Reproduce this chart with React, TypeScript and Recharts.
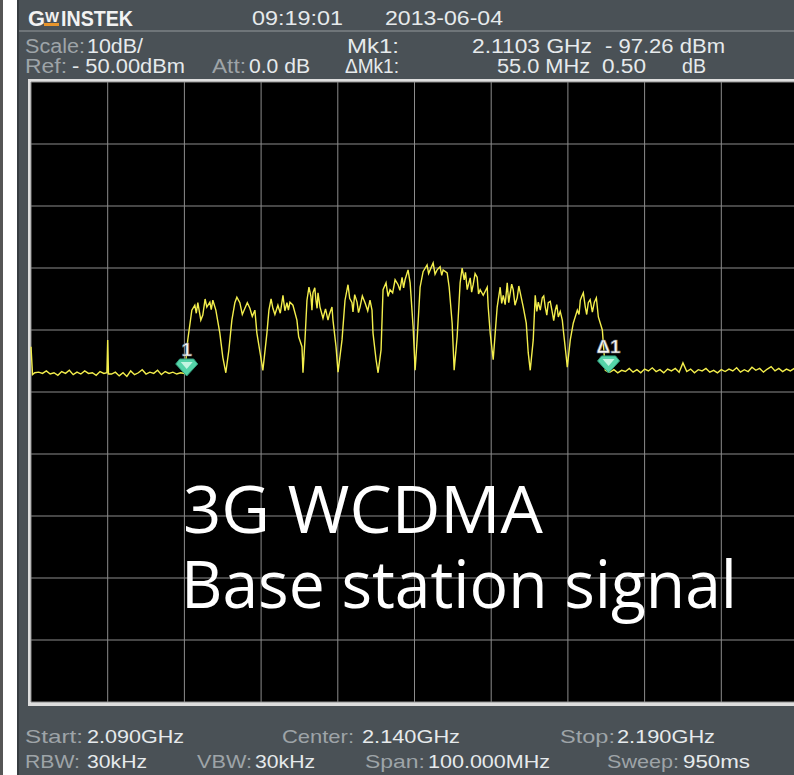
import React from "react";
import { LineChart, Line, XAxis, YAxis, CartesianGrid, ReferenceDot } from "recharts";

// Frequency axis (MHz) and level axis (dBm)
const freqTicks = [2090, 2100, 2110, 2120, 2130, 2140, 2150, 2160, 2170, 2180, 2190];
const levelTicks = [-150, -140, -130, -120, -110, -100, -90, -80, -70, -60, -50];

// Noise floor left of the WCDMA band: [MHz, dBm]
const noiseLeft: [number, number][] = [
  [2090.0, -92.7], [2090.2, -97.2], [2090.5, -96.9], [2091.0, -96.8], [2091.5, -97.0], [2092.0, -96.6],
  [2092.5, -97.1], [2093.0, -96.9], [2093.5, -97.3], [2094.0, -96.7], [2094.5, -97.0], [2095.0, -96.5],
  [2095.5, -97.2], [2096.0, -96.8], [2096.5, -97.1], [2097.0, -96.6], [2097.5, -97.0], [2098.0, -96.9],
  [2098.5, -97.3], [2099.0, -96.7], [2099.5, -97.0], [2099.9, -96.9], [2100.0, -91.6], [2100.1, -97.1],
  [2100.5, -97.1], [2101.0, -96.8], [2101.5, -97.4], [2102.0, -96.9], [2102.5, -97.5], [2103.0, -96.6],
  [2103.5, -97.2], [2104.0, -96.9], [2104.5, -96.4], [2105.0, -97.1], [2105.5, -96.8], [2106.0, -97.0],
  [2106.5, -96.5], [2107.0, -97.2], [2107.5, -96.7], [2108.0, -97.0], [2108.5, -96.8], [2109.0, -97.1],
  [2109.5, -96.9], [2110.0, -97.0],
];

// WCDMA band (11 carriers, 5 MHz apart): [MHz, dBm]
const signalBand: [number, number][] = [
  [2110.05, -96.9], [2110.44, -91.6], [2110.97, -86.8], [2111.36, -86.0], [2111.55, -87.3], [2111.75, -85.6],
  [2112.14, -88.4], [2112.40, -87.6], [2112.70, -85.0], [2112.92, -86.3], [2113.32, -85.5], [2113.50, -86.7],
  [2113.71, -85.2], [2114.10, -86.8], [2114.62, -90.5], [2115.01, -94.4], [2115.40, -96.9], [2115.80, -93.2],
  [2116.19, -88.4], [2116.58, -85.6], [2116.84, -84.7], [2117.23, -85.6], [2117.55, -87.5], [2117.89, -86.5],
  [2118.20, -85.6], [2118.54, -86.5], [2118.85, -87.8], [2119.19, -86.8], [2119.45, -90.5], [2119.97, -94.4],
  [2120.23, -96.5], [2120.76, -90.5], [2121.02, -86.8], [2121.30, -85.0], [2121.54, -86.5], [2121.80, -87.5],
  [2122.19, -86.0], [2122.50, -87.3], [2122.85, -84.4], [2123.10, -86.9], [2123.37, -85.6], [2123.56, -86.8],
  [2123.76, -85.5], [2124.15, -86.0], [2124.67, -88.4], [2124.90, -91.1], [2125.33, -92.7], [2125.46, -96.9],
  [2125.72, -91.6], [2125.98, -85.2], [2126.24, -83.1], [2126.50, -84.6], [2126.63, -86.8], [2126.76, -84.0],
  [2127.00, -83.2], [2127.15, -85.2], [2127.30, -86.5], [2127.42, -84.0], [2127.68, -86.3], [2128.07, -88.1],
  [2128.40, -86.6], [2128.72, -88.4], [2128.90, -87.5], [2129.24, -86.3], [2129.37, -88.4], [2129.77, -92.7],
  [2130.03, -96.8], [2130.55, -91.6], [2130.94, -85.2], [2131.33, -82.7], [2131.55, -84.9], [2131.85, -85.6],
  [2131.98, -87.1], [2132.20, -84.3], [2132.51, -85.5], [2132.70, -87.2], [2132.90, -86.3], [2133.20, -84.5],
  [2133.55, -85.6], [2133.90, -86.9], [2134.20, -85.2], [2134.46, -86.8], [2134.59, -90.5], [2134.99, -94.8],
  [2135.25, -96.9], [2135.64, -93.2], [2135.90, -83.5], [2136.29, -82.4], [2136.55, -84.6], [2136.81, -83.5],
  [2137.15, -84.0], [2137.47, -81.9], [2137.86, -82.7], [2138.10, -83.6], [2138.38, -81.5], [2138.58, -83.2],
  [2138.77, -81.9], [2139.16, -80.3], [2139.43, -82.4], [2139.82, -89.5], [2140.08, -96.5], [2140.34, -91.6],
  [2140.73, -83.1], [2141.12, -80.6], [2141.64, -79.5], [2141.84, -80.9], [2142.04, -80.3], [2142.43, -79.2],
  [2142.68, -81.0], [2142.95, -80.3], [2143.34, -79.8], [2143.55, -81.2], [2143.73, -80.3], [2144.26, -80.8],
  [2144.52, -83.1], [2144.91, -88.9], [2145.17, -96.5], [2145.56, -91.1], [2145.95, -82.4], [2146.21, -80.0],
  [2146.48, -81.9], [2146.65, -80.7], [2146.87, -83.5], [2147.26, -81.6], [2147.45, -83.9], [2147.65, -82.7],
  [2147.90, -80.9], [2148.17, -81.5], [2148.35, -84.2], [2148.56, -83.5], [2148.96, -84.4], [2149.48, -83.1],
  [2149.61, -86.3], [2149.87, -90.5], [2150.26, -94.8], [2150.52, -90.5], [2150.78, -86.3], [2151.17, -83.1],
  [2151.37, -85.7], [2151.57, -84.4], [2151.82, -85.9], [2152.09, -82.4], [2152.28, -85.6], [2152.48, -84.0],
  [2152.67, -82.6], [2152.87, -83.5], [2153.10, -86.0], [2153.39, -84.8], [2153.60, -82.9], [2153.79, -84.0],
  [2154.18, -86.3], [2154.57, -88.9], [2154.83, -93.7], [2155.09, -96.5], [2155.48, -91.6], [2155.74, -84.4],
  [2155.95, -87.0], [2156.14, -85.5], [2156.40, -86.8], [2156.66, -84.8], [2156.85, -84.5], [2157.05, -86.3],
  [2157.25, -87.6], [2157.44, -85.6], [2157.70, -85.4], [2157.96, -87.1], [2158.15, -88.5], [2158.36, -86.8],
  [2158.55, -85.9], [2158.75, -87.9], [2159.00, -87.0], [2159.27, -88.4], [2159.40, -90.0], [2159.79, -94.4],
  [2159.92, -96.0], [2160.31, -91.6], [2160.70, -88.9], [2161.23, -86.8], [2161.45, -87.5], [2161.62, -85.2],
  [2161.80, -84.6], [2162.01, -84.0], [2162.27, -86.3], [2162.45, -87.5], [2162.66, -85.6], [2162.90, -85.1],
  [2163.19, -87.1], [2163.45, -85.5], [2163.71, -84.8], [2163.97, -87.9], [2164.49, -90.0], [2164.88, -96.5],
  [2165.30, -96.8],
];

// Noise floor right of the band: [MHz, dBm]
const noiseRight: [number, number][] = [
  [2165.5, -96.8], [2166.0, -96.4], [2166.5, -96.9], [2167.0, -96.5], [2167.5, -96.7], [2168.0, -96.2],
  [2168.5, -96.8], [2169.0, -96.4], [2169.5, -96.9], [2170.0, -96.3], [2170.5, -96.6], [2171.0, -96.1],
  [2171.5, -96.7], [2172.0, -96.4], [2172.5, -96.9], [2173.0, -96.3], [2173.5, -96.6], [2174.0, -96.2],
  [2174.5, -96.8], [2175.0, -95.3], [2175.5, -96.7], [2176.0, -96.3], [2176.5, -96.9], [2177.0, -96.4],
  [2177.5, -96.6], [2178.0, -96.2], [2178.5, -96.8], [2179.0, -96.5], [2179.5, -96.9], [2180.0, -96.4],
  [2180.5, -96.7], [2181.0, -96.3], [2181.5, -96.6], [2182.0, -96.1], [2182.5, -96.8], [2183.0, -96.4],
  [2183.5, -96.7], [2184.0, -96.0], [2184.5, -96.5], [2185.0, -96.2], [2185.5, -96.8], [2186.0, -96.3],
  [2186.5, -95.9], [2187.0, -96.6], [2187.5, -96.2], [2188.0, -96.7], [2188.5, -96.3], [2189.0, -96.6],
  [2189.5, -96.2], [2190.0, -96.5],
];

// Markers: [MHz, dBm]
const marker1: [number, number] = [2110.3, -97.26];
const markerDelta: [number, number] = [2165.3, -96.76];

const traceData = [...noiseLeft, ...signalBand, ...noiseRight].map(([f, v]) => ({ f, v }));

const FONT = "'Liberation Sans', Arial, sans-serif";
const GRAY = "#9ea4a8";
const WHITE = "#e6eaec";

const T = ({ x, y, w, fill = WHITE, size = 19, children }: any) => (
  <text x={x} y={y} textLength={w} lengthAdjust="spacingAndGlyphs" fill={fill} fontSize={size} fontFamily={FONT}>
    {children}
  </text>
);

const Gem = (label: string) => (props: any) => {
  const { cx, cy } = props;
  if (cx == null || cy == null) return null;
  return (
    <g>
      <path
        d={`M ${cx - 11} ${cy - 11} L ${cx - 7} ${cy - 16} L ${cx + 7} ${cy - 16} L ${cx + 11} ${cy - 11} L ${cx} ${cy + 1} Z`}
        fill="#55d4a9"
        stroke="#2f9c7b"
        strokeWidth={1}
      />
      <path d={`M ${cx - 6} ${cy - 13} L ${cx + 6} ${cy - 13} L ${cx} ${cy - 6} Z`} fill="#c4f5e2" />
      <text
        x={cx}
        y={cy - 19}
        textAnchor="middle"
        fill="#f6f6f6"
        stroke="#777"
        strokeWidth={0.6}
        fontSize={19}
        fontWeight="bold"
        fontFamily={FONT}
      >
        {label}
      </text>
    </g>
  );
};

export default function App() {
  return (
    <div style={{ position: "absolute", left: 0, top: 0, width: 794, height: 775, overflow: "hidden", background: "#4a5156" }}>
      <svg width={794} height={775} style={{ position: "absolute", left: 0, top: 0 }}>
        <rect x={0} y={0} width={794} height={775} fill="#4a5156" />
        <rect x={0} y={0} width={3} height={775} fill="#555" />
        <rect x={3} y={0} width={14} height={775} fill="#ffffff" />
        <rect x={17} y={0} width={2} height={775} fill="#363c40" />
        <rect x={19} y={30} width={775} height={2} fill="#6f7579" />
        {/* logo */}
        <text x={28} y={26} textLength={17} lengthAdjust="spacingAndGlyphs" fill="#f2f2f2" fontSize={22} fontWeight="900" fontFamily={FONT}>G</text>
        <text x={45} y={22} textLength={14} lengthAdjust="spacingAndGlyphs" fill="#f2f2f2" fontSize={14} fontWeight="900" fontFamily={FONT}>W</text>
        <rect x={44} y={23} width={15} height={3} fill="#e8952c" />
        <text x={61} y={26} textLength={72} lengthAdjust="spacingAndGlyphs" fill="#f2f2f2" fontSize={22} fontWeight="900" fontFamily={FONT}>INSTEK</text>
        <T x={252} y={25} w={91} size={20}>09:19:01</T>
        <T x={385} y={25} w={118} size={20}>2013-06-04</T>
        {/* row 2 */}
        <T x={25} y={53} w={60} fill={GRAY} size={20}>Scale:</T>
        <T x={87} y={53} w={56} size={20}>10dB/</T>
        <T x={347} y={53} w={52} size={20}>Mk1:</T>
        <T x={472} y={53} w={120} size={20}>2.1103 GHz</T>
        <T x={605} y={53} w={120} size={20}>- 97.26 dBm</T>
        {/* row 3 */}
        <T x={25} y={73} w={42} fill={GRAY} size={20}>Ref:</T>
        <T x={72} y={73} w={113} size={20}>- 50.00dBm</T>
        <T x={212} y={73} w={34} fill={GRAY} size={20}>Att:</T>
        <T x={249} y={73} w={61} size={20}>0.0 dB</T>
        <T x={345} y={73} w={54} size={20}>ΔMk1:</T>
        <T x={497} y={73} w={93} size={20}>55.0 MHz</T>
        <T x={602} y={73} w={44} size={20}>0.50</T>
        <T x={682} y={73} w={24} size={20}>dB</T>
        {/* plot border */}
        <rect x={28} y={79} width={790} height={627} fill="#dedede" />
        {/* bottom rows */}
        <T x={25} y={743} w={58} fill={GRAY}>Start:</T>
        <T x={87} y={743} w={97}>2.090GHz</T>
        <T x={282} y={743} w={72} fill={GRAY}>Center:</T>
        <T x={362} y={743} w={98}>2.140GHz</T>
        <T x={560} y={743} w={55} fill={GRAY}>Stop:</T>
        <T x={617} y={743} w={98}>2.190GHz</T>
        <T x={25} y={768} w={55} fill={GRAY}>RBW:</T>
        <T x={87} y={768} w={60}>30kHz</T>
        <T x={197} y={768} w={55} fill={GRAY}>VBW:</T>
        <T x={255} y={768} w={60}>30kHz</T>
        <T x={365} y={768} w={60} fill={GRAY}>Span:</T>
        <T x={428} y={768} w={122}>100.000MHz</T>
        <T x={607} y={768} w={72} fill={GRAY}>Sweep:</T>
        <T x={683} y={768} w={67}>950ms</T>
      </svg>
      <div style={{ position: "absolute", left: 0, top: 0 }}>
        <LineChart width={800} height={775} data={traceData} margin={{ top: 82, right: 2, bottom: 73, left: 31 }}>
          <CartesianGrid
            fill="#000000"
            fillOpacity={1}
            stroke="#8c8c8c"
            strokeWidth={1}
            horizontalValues={levelTicks}
            verticalValues={freqTicks}
          />
          <XAxis dataKey="f" type="number" domain={[2090, 2190]} ticks={freqTicks} hide />
          <YAxis type="number" domain={[-150, -50]} ticks={levelTicks} hide />
          <Line type="linear" dataKey="v" stroke="#f3ee4c" strokeWidth={1.4} dot={false} isAnimationActive={false} />
          <ReferenceDot x={marker1[0]} y={marker1[1]} r={8} shape={Gem("1")} ifOverflow="visible" />
          <ReferenceDot x={markerDelta[0]} y={markerDelta[1]} r={8} shape={Gem("Δ1")} ifOverflow="visible" />
        </LineChart>
      </div>
      <svg width={794} height={775} style={{ position: "absolute", left: 0, top: 0, pointerEvents: "none" }}>
        <text x={183} y={533} textLength={360} lengthAdjust="spacingAndGlyphs" fill="#ffffff" fontSize={66} fontFamily="'Open Sans', 'Noto Sans', sans-serif">3G WCDMA</text>
        <text x={181} y={608} textLength={556} lengthAdjust="spacingAndGlyphs" fill="#ffffff" fontSize={66} fontFamily="'Open Sans', 'Noto Sans', sans-serif">Base station signal</text>
      </svg>
    </div>
  );
}
